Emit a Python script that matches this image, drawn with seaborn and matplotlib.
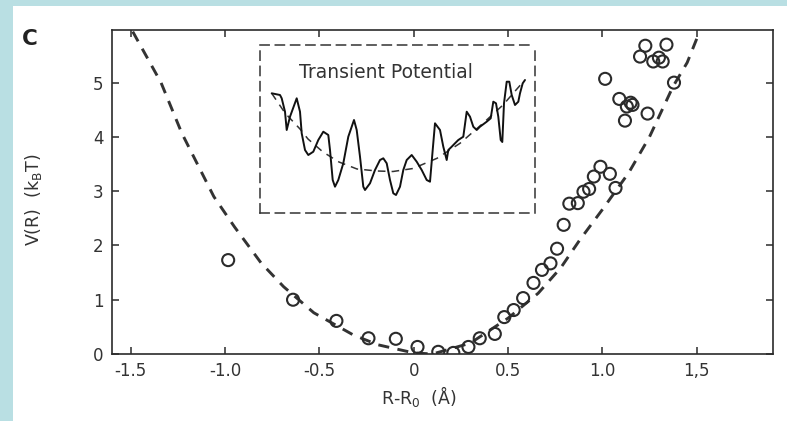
import numpy as np
import pandas as pd
import matplotlib
matplotlib.use("Agg")
import matplotlib.pyplot as plt
import seaborn as sns
from matplotlib.patches import Rectangle

# ---------------- data ----------------
r_obs = [-0.984, -0.64, -0.41, -0.24, -0.095, 0.02, 0.13, 0.21, 0.29, 0.35,
         0.43, 0.48, 0.53, 0.58, 0.635, 0.68, 0.725, 0.76, 0.795, 0.825,
         0.87, 0.90, 0.93, 0.955, 0.99, 1.04, 1.07, 1.015, 1.09, 1.12,
         1.13, 1.15, 1.16, 1.24, 1.38, 1.20, 1.228, 1.27, 1.30, 1.32, 1.34]
v_obs = [1.73, 1.00, 0.61, 0.29, 0.28, 0.13, 0.04, 0.02, 0.13, 0.29,
         0.37, 0.68, 0.81, 1.03, 1.31, 1.55, 1.67, 1.94, 2.38, 2.77,
         2.78, 2.99, 3.04, 3.27, 3.45, 3.32, 3.06, 5.07, 4.70, 4.30,
         4.56, 4.63, 4.59, 4.43, 5.00, 5.48, 5.68, 5.39, 5.46, 5.39, 5.70]

fit_r = [-1.49, -1.34, -1.23, -1.14, -1.06, -0.95, -0.81, -0.69, -0.53, -0.32,
         -0.19, 0.0, 0.1, 0.30, 0.50, 0.66, 0.78, 0.88, 1.0, 1.14, 1.25,
         1.375, 1.45, 1.51]
fit_v = [5.94, 5.0, 4.07, 3.45, 2.9, 2.34, 1.68, 1.24, 0.76, 0.35,
         0.17, 0.02, 0.0, 0.2, 0.66, 1.12, 1.59, 2.1, 2.66, 3.34, 4.0,
         4.93, 5.37, 5.89]

x_ticks = [-1.5, -1.0, -0.5, 0, 0.5, 1.0, 1.5]
x_ticklabels = ["-1.5", "-1.0", "-0.5", "0", "0.5", "1.0", "1,5"]
y_ticks = [0, 1, 2, 3, 4, 5]
y_ticklabels = ["0", "1", "2", "3", "4", "5"]

# inset: transient potential trace (arbitrary units)
tr_x = [11.7, 20, 21.7, 25, 26.7, 30, 36.7, 40, 41.7, 45, 48.3, 53.3, 58.3, 63.3,
        68.3, 70, 72.7, 75, 78.3, 83.3, 88.3, 94, 96.7, 100, 103.3, 105, 110, 115,
        120, 123.3, 126.7, 130, 133.3, 136, 140, 143.3, 146.7, 151.7, 156.7, 161.7,
        166.7, 170, 172.7, 175, 180, 183.3, 186.7, 188.3, 191.7, 195, 198.3, 203.3,
        206.7, 210, 213.3, 216.7, 220, 226.7, 230.7, 233.3, 236, 238.3, 240.7, 242.3,
        244, 246.7, 249.3, 251.7, 255, 258.3, 260, 262.7, 265]
tr_y = [119.7, 118, 114.7, 101.3, 83, 96.3, 114.7, 101.3, 79.7, 63, 58, 61.3, 73, 81.3,
        78, 63, 33, 26.3, 33, 49.7, 76.3, 93, 83, 56.3, 26.3, 23, 29.7, 43,
        53, 54.7, 49.7, 33, 19.7, 18, 26.3, 43, 53, 58, 51.3, 43,
        33, 31.3, 63, 89.7, 83, 66.3, 53, 63, 66.3, 69.7, 73, 76.3,
        101.3, 96.3, 86.3, 83, 86.3, 91.3, 94.7, 111.3, 109.7, 96.3, 73, 71,
        109.7, 131.3, 131.3, 118, 108, 111.3, 119.7, 129.7, 133]
tr_fit_x = [11.7, 25, 40, 48, 63, 79, 97, 117, 133, 153, 177, 200, 223, 243, 263]
tr_fit_y = [119.7, 100, 84, 74, 61, 51, 44, 42, 41.5, 44.5, 54.7, 69.7, 89.7, 108, 131]

# ---------------- style ----------------
sns.set_style("ticks")
plt.rcParams['font.family'] = ['DejaVu Sans']
plt.rcParams['mathtext.fontset'] = 'dejavusans'
plt.rcParams['mathtext.default'] = 'regular'

ink = '#2b2b2b'
txt = '#333333'
W, H = 787, 421
fig = plt.figure(figsize=(W / 100, H / 100), dpi=100)
fig.patch.set_facecolor('white')
band = '#b9dfe3'
fig.add_artist(Rectangle((0, 0), 13 / W, 1, transform=fig.transFigure,
                         facecolor=band, edgecolor='none', zorder=0))
fig.add_artist(Rectangle((0, 1 - 6 / H), 1, 6 / H, transform=fig.transFigure,
                         facecolor=band, edgecolor='none', zorder=0))

ax = fig.add_axes([112 / W, 67 / H, 661 / W, 324 / H])
ax.set_facecolor('white')

df_obs = pd.DataFrame({'r': r_obs, 'v': v_obs})
df_fit = pd.DataFrame({'r': fit_r, 'v': fit_v})

sns.lineplot(data=df_fit, x='r', y='v', ax=ax, sort=False, estimator=None,
             color='#333333', linewidth=2.1, zorder=2)
ax.lines[-1].set_dashes((3.8, 2.9))

sns.scatterplot(data=df_obs, x='r', y='v', ax=ax, s=75, color=ink,
                linewidth=1.5, zorder=3)
coll = ax.collections[-1]
coll.set_facecolor('none')
coll.set_edgecolor(ink)

ax.set_xlim(-1.6, 1.905)
ax.set_ylim(0, 5.97)
ax.set_xticks(x_ticks)
ax.set_xticklabels(x_ticklabels)
ax.set_yticks(y_ticks)
ax.set_yticklabels(y_ticklabels)
ax.tick_params(direction='in', length=5, width=1.1, color=ink, labelcolor=txt,
               labelsize=12, top=True, right=True)
ax.tick_params(axis='x', pad=6)
ax.tick_params(axis='y', pad=6)
for s in ax.spines.values():
    s.set_color(ink)
    s.set_linewidth(1.2)

ax.set_xlabel(r"R-R$_0$  (Å)", fontsize=12.5, color=txt)
ax.set_ylabel(r"V(R)  (k$_B$T)", fontsize=12.5, color=txt)
ax.xaxis.set_label_coords((419 - 112) / 661, -(384 - 354) / 324)
ax.yaxis.set_label_coords(-(112 - 44) / 661, (354 - 200) / 324)

fig.text(22 / W, 1 - 39 / H, 'C', fontsize=15.5, fontweight='bold', color='#222222',
         va='center', ha='left')

# ---------------- inset ----------------
ax_in = fig.add_axes([260 / W, (H - 213) / H, 275 / W, 168 / H])
ax_in.set_facecolor('none')
ax_in.set_xlim(0, 275)
ax_in.set_ylim(0, 168)
ax_in.set_xticks([])
ax_in.set_yticks([])
for s in ax_in.spines.values():
    s.set_color('#333333')
    s.set_linewidth(1.1)
    s.set_linestyle((0, (6, 4)))

df_tr = pd.DataFrame({'x': tr_x, 'y': tr_y})
df_trf = pd.DataFrame({'x': tr_fit_x, 'y': tr_fit_y})
sns.lineplot(data=df_trf, x='x', y='y', ax=ax_in, sort=False, estimator=None,
             color='#333333', linewidth=1.1)
ax_in.lines[-1].set_dashes((5, 4))
sns.lineplot(data=df_tr, x='x', y='y', ax=ax_in, sort=False, estimator=None,
             color='#111111', linewidth=1.4)
ax_in.set_xlabel('')
ax_in.set_ylabel('')
ax_in.text(39, 140, 'Transient Potential', fontsize=13.5, color=txt,
           ha='left', va='center')

fig.savefig('out.png', dpi=100, facecolor='white')
